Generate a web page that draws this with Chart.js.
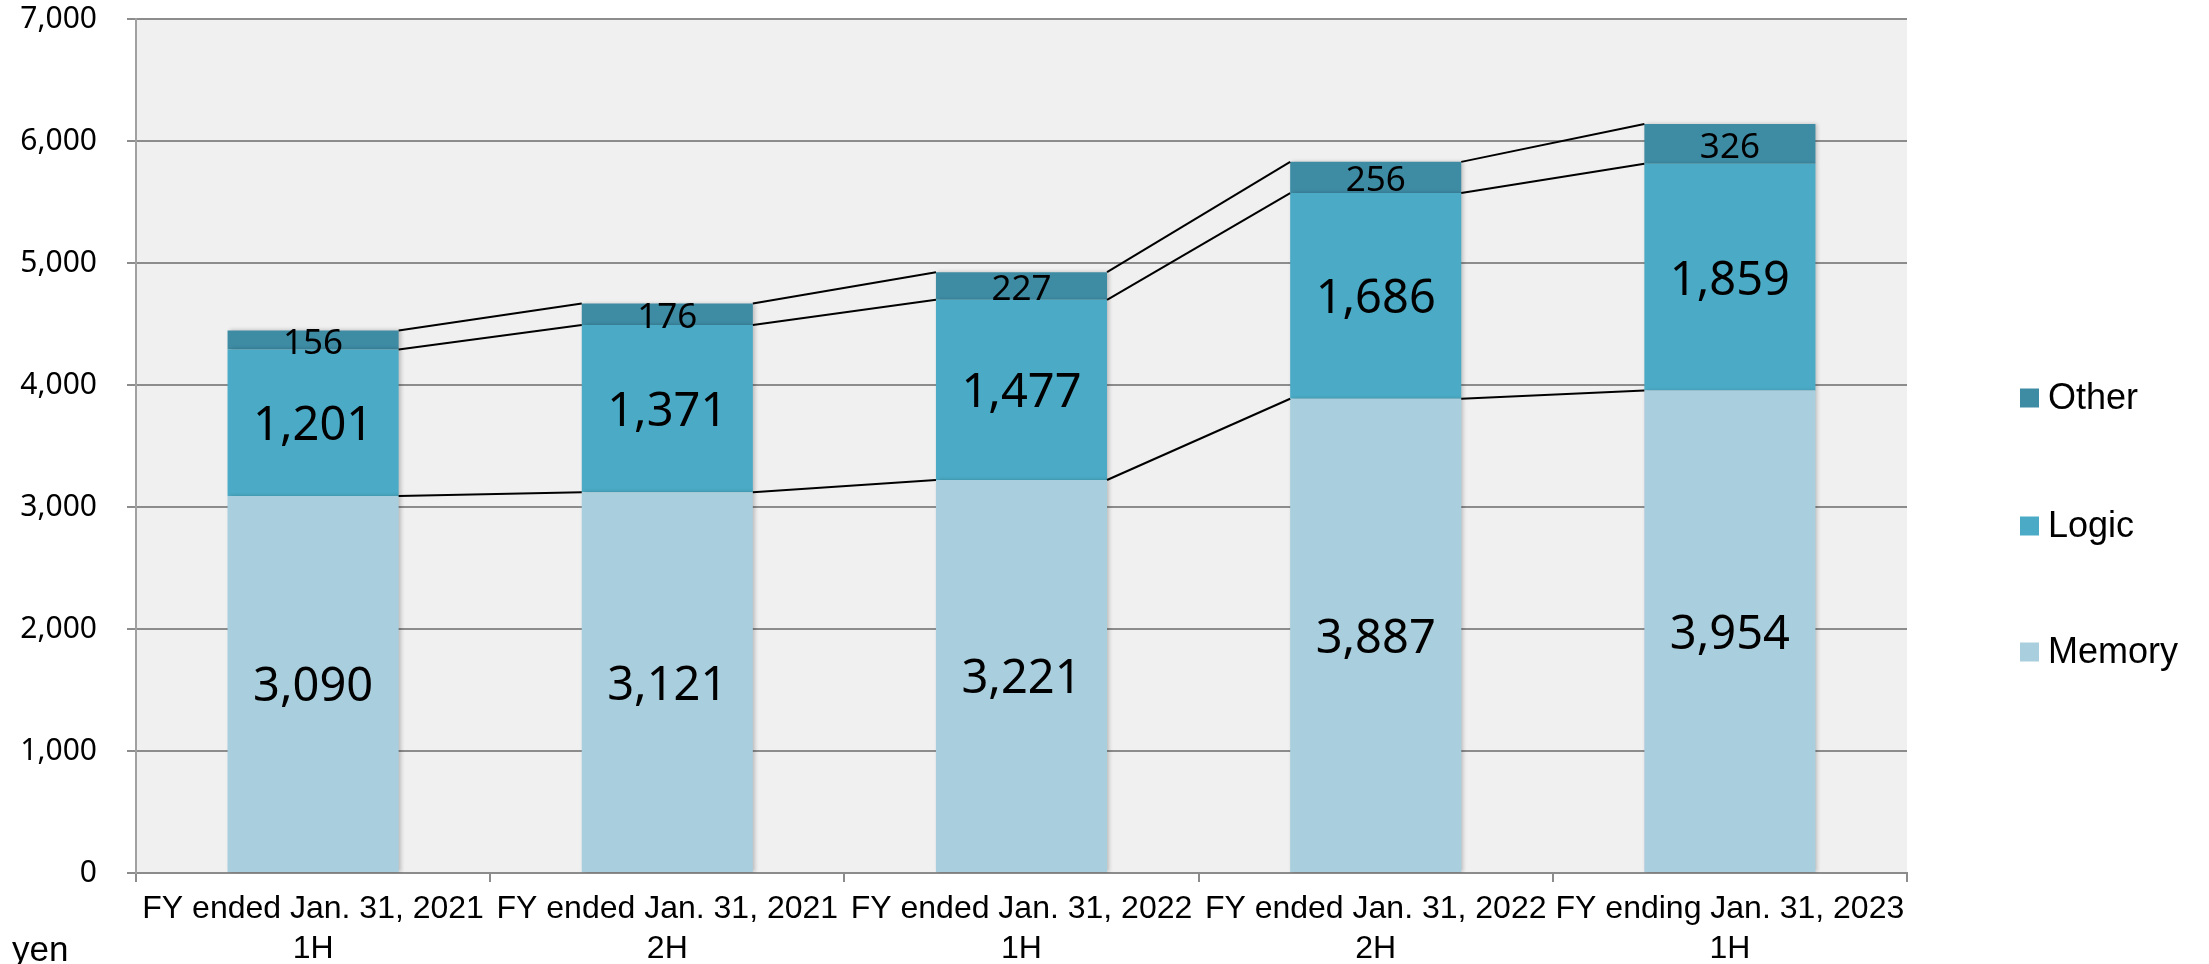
<!DOCTYPE html>
<html>
<head>
<meta charset="utf-8">
<script src="https://cdn.jsdelivr.net/npm/chart.js@4/dist/chart.umd.min.js"></script>
<style>
  html, body { margin: 0; padding: 0; background: #fff; }
  #wrap { width: 2209px; height: 964px; }
</style>
</head>
<body>
<div id="wrap"><canvas id="salesChart" width="2209" height="964"></canvas></div>
<script>
const categories = [
    ['FY ended Jan. 31, 2021', '1H'],
    ['FY ended Jan. 31, 2021', '2H'],
    ['FY ended Jan. 31, 2022', '1H'],
    ['FY ended Jan. 31, 2022', '2H'],
    ['FY ending Jan. 31, 2023', '1H']
];
const memoryValues = [3090, 3121, 3221, 3887, 3954];
const logicValues = [1201, 1371, 1477, 1686, 1859];
const otherValues = [156, 176, 227, 256, 326];
const seriesNames = ['Memory', 'Logic', 'Other'];
const unitLabel = 'yen';

const colors = ['#a9cedd', '#4babc6', '#3e8ca4'];
const valueFont = '"Noto Sans", sans-serif';
const textFont = '"Liberation Sans", Arial, sans-serif';

const fmt = v => v.toLocaleString('en-US');

// fills the plot area grey before anything else is drawn
const plotBackground = {
    id: 'plotBackground',
    beforeDraw(chart) {
        const { ctx, chartArea: a } = chart;
        ctx.save();
        ctx.fillStyle = '#f0f0f0';
        ctx.fillRect(a.left, a.top, a.right - a.left, a.bottom - a.top);
        ctx.restore();
    }
};

// soft shadow on the right side of the bars
const barShadow = {
    id: 'barShadow',
    beforeDatasetsDraw(chart) {
        const ctx = chart.ctx;
        ctx.save();
        ctx.shadowColor = 'rgba(0,0,0,0.22)';
        ctx.shadowBlur = 4;
        ctx.shadowOffsetX = 2;
        ctx.shadowOffsetY = 0;
    },
    afterDatasetsDraw(chart) {
        chart.ctx.restore();
    }
};

// excel style series lines between stacked segments + value labels
const seriesLines = {
    id: 'seriesLines',
    afterDatasetsDraw(chart) {
        const ctx = chart.ctx;
        ctx.save();
        ctx.shadowColor = 'transparent';
        ctx.strokeStyle = '#000';
        ctx.lineWidth = 2;
        chart.data.datasets.forEach((ds, di) => {
            const bars = chart.getDatasetMeta(di).data;
            for (let i = 0; i < bars.length - 1; i++) {
                const a = bars[i], b = bars[i + 1];
                ctx.beginPath();
                ctx.moveTo(a.x + a.width / 2, a.y);
                ctx.lineTo(b.x - b.width / 2, b.y);
                ctx.stroke();
            }
        });

        ctx.fillStyle = '#000';
        ctx.textAlign = 'center';
        ctx.textBaseline = 'middle';
        chart.data.datasets.forEach((ds, di) => {
            const bars = chart.getDatasetMeta(di).data;
            ctx.font = (di === 2 ? '35px ' : '47px ') + valueFont;
            bars.forEach((bar, i) => {
                const mid = (bar.y + bar.base) / 2;
                ctx.fillText(fmt(ds.data[i]), bar.x, mid + 4);
            });
        });
        ctx.restore();
    }
};

// legend on the right (reverse order) and the unit label
const sideLegend = {
    id: 'sideLegend',
    afterDraw(chart) {
        const ctx = chart.ctx;
        ctx.save();
        const rows = [2, 1, 0];
        const ys = [398, 526, 652];
        ctx.font = '36px ' + textFont;
        ctx.textBaseline = 'middle';
        ctx.textAlign = 'left';
        rows.forEach((di, k) => {
            ctx.fillStyle = chart.data.datasets[di].backgroundColor;
            ctx.fillRect(2020, ys[k] - 9.5, 19, 19);
            ctx.fillStyle = '#000';
            ctx.fillText(chart.data.datasets[di].label, 2048, ys[k] + 1);
        });
        ctx.font = '35px ' + textFont;
        ctx.textBaseline = 'alphabetic';
        ctx.fillText(unitLabel, 12, 961);
        ctx.restore();
    }
};

new Chart(document.getElementById('salesChart'), {
    type: 'bar',
    data: {
        labels: categories,
        datasets: [
            { label: seriesNames[0], data: memoryValues, backgroundColor: colors[0] },
            { label: seriesNames[1], data: logicValues, backgroundColor: colors[1] },
            { label: seriesNames[2], data: otherValues, backgroundColor: colors[2] }
        ]
    },
    options: {
        responsive: false,
        animation: false,
        datasets: {
            bar: { barPercentage: 0.483, categoryPercentage: 1, borderWidth: 0 }
        },
        layout: { padding: { top: 19, right: 302, left: 0, bottom: 0 } },
        scales: {
            x: {
                stacked: true,
                grid: {
                    offset: true,
                    drawOnChartArea: false,
                    tickLength: 9,
                    color: '#8c8c8c',
                    lineWidth: 2
                },
                border: { color: '#8c8c8c', width: 2 },
                ticks: {
                    color: '#000',
                    font: { family: textFont, size: 32, lineHeight: 1.25 },
                    padding: 7,
                    maxRotation: 0,
                    autoSkip: false
                },
                afterFit: s => { s.height = 91; }
            },
            y: {
                stacked: true,
                min: 0,
                max: 7000,
                grid: { color: '#8c8c8c', lineWidth: 2, tickLength: 9 },
                border: { color: '#a0a0a0', width: 2 },
                ticks: {
                    stepSize: 1000,
                    color: '#000',
                    font: { family: valueFont, size: 30 },
                    padding: 30,
                    callback: v => fmt(v)
                },
                afterFit: s => {
                    s.width = 136;
                    s.paddingTop = 0;
                    s.paddingBottom = 0;
                }
            }
        },
        plugins: {
            legend: { display: false },
            tooltip: { enabled: false }
        }
    },
    plugins: [plotBackground, barShadow, seriesLines, sideLegend]
});
</script>
</body>
</html>
